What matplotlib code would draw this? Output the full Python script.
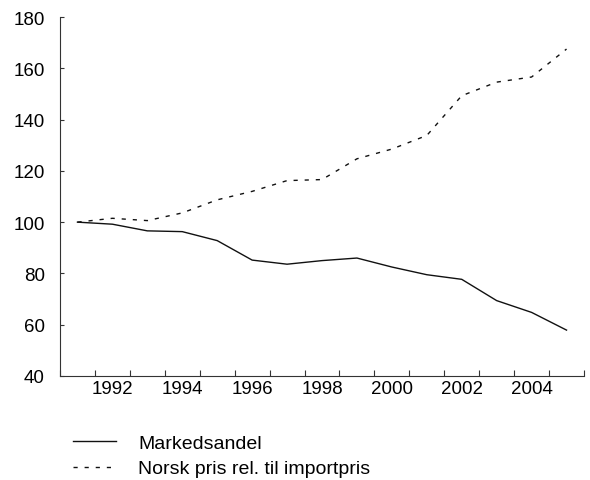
import matplotlib
matplotlib.use("Agg")
import matplotlib.pyplot as plt
import numpy as np

plt.rcParams['font.family'] = ['Liberation Sans', 'DejaVu Sans']
plt.rcParams['lines.scale_dashes'] = False

years = list(range(1991, 2006))
markedsandel = [100, 99.2, 96.6, 96.3, 92.8, 85.2, 83.6, 85.0, 86.0, 82.5, 79.5, 77.7, 69.4, 64.8, 57.9]
norsk_pris = [100, 101.5, 100.6, 103.6, 108.7, 112.0, 116.2, 116.6, 124.7, 128.5, 133.8, 149.3, 154.6, 156.6, 167.5]
tick_labels = [str(y) if y % 2 == 0 else "" for y in years]
labels = ["Markedsandel", "Norsk pris rel. til importpris"]

fig = plt.figure(figsize=(5.9, 4.81), dpi=100)
ax = fig.add_axes([60/590, 1-377/481, 524/590, 359/481])

x = np.arange(len(years))
l1, = ax.plot(x, markedsandel, color='#111111', lw=1.0, label=labels[0])
l2, = ax.plot(x, norsk_pris, color='#111111', lw=1.0, dashes=(3.0, 5.0), label=labels[1])

ax.set_xlim(-0.5, len(years) - 0.5)
ax.set_ylim(40, 180)
ax.set_yticks(np.arange(40, 181, 20))
ax.set_xticks(x)
ax.set_xticklabels(tick_labels)
ax.tick_params(axis='x', which='major', length=0, pad=3, labelsize=13.5)
ax.set_xticks(np.arange(-0.5, len(years)), minor=True)
ax.tick_params(axis='x', which='minor', direction='in', length=4, width=0.8, color='#333333')
ax.tick_params(axis='y', direction='in', length=3, width=0.8, color='#333333', pad=11, labelsize=13.5)

for s in ['top', 'right']:
    ax.spines[s].set_visible(False)
for s in ['left', 'bottom']:
    ax.spines[s].set_color('#333333')
    ax.spines[s].set_linewidth(0.8)

fig.legend(handles=[l1, l2], loc='upper left', bbox_to_anchor=(73/590, 1-435/481),
           frameon=False, fontsize=14, handlelength=2.2, handletextpad=1.15,
           labelspacing=0.42, borderaxespad=0, borderpad=0)

fig.savefig('out.png', dpi=100)
